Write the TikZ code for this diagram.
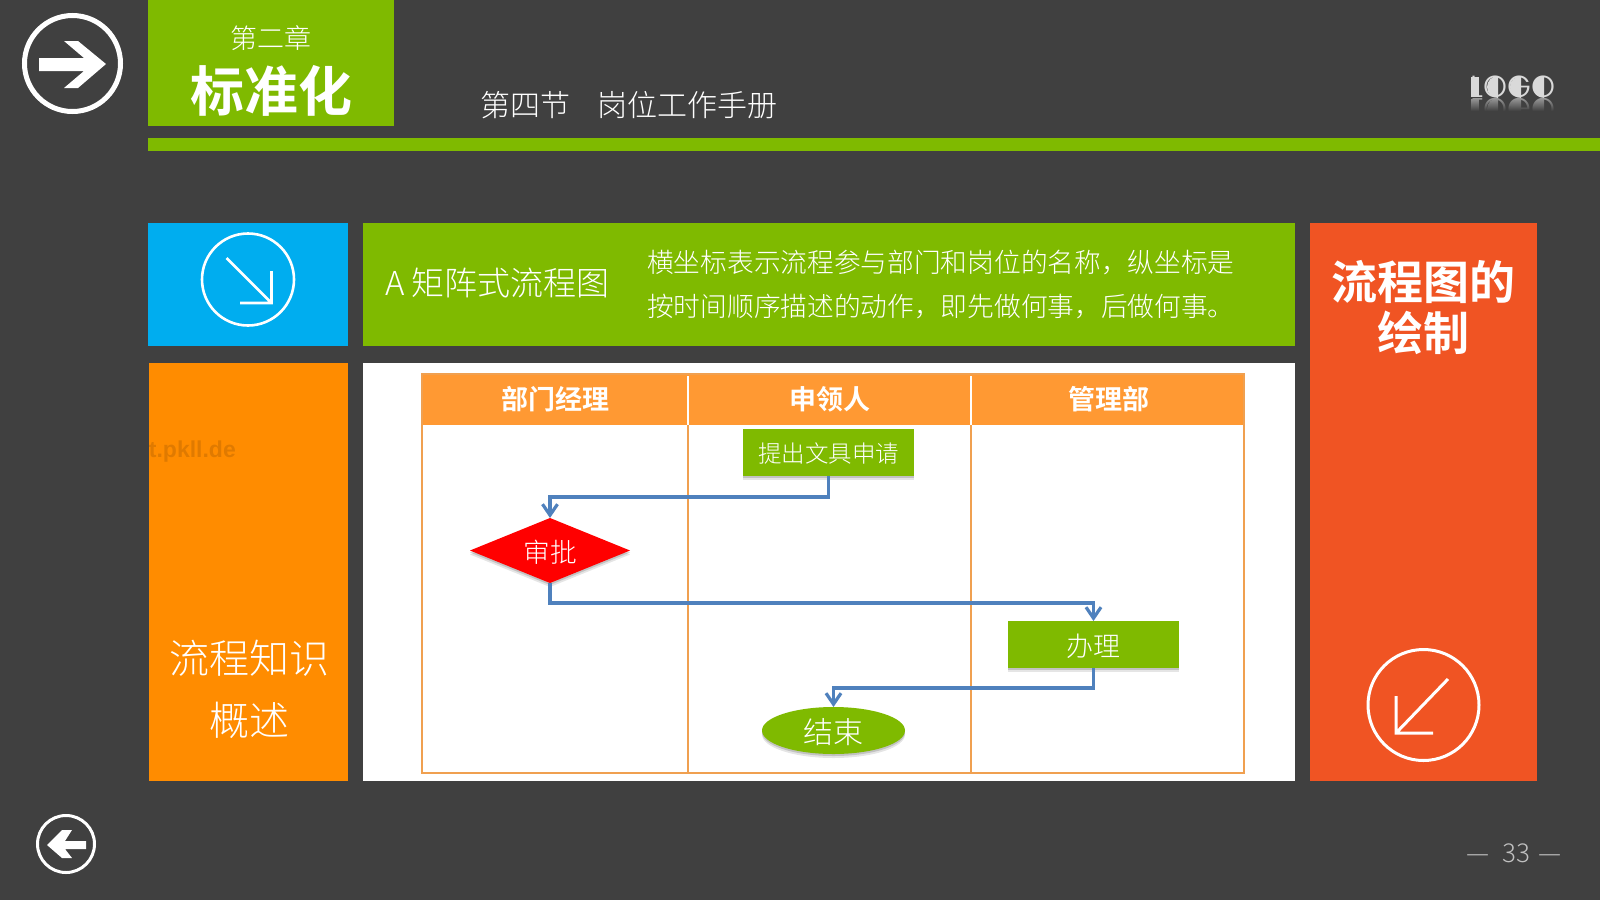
\documentclass[tikz,border=0pt]{standalone}
\usepackage{fontspec}
\setmainfont{Noto Sans CJK SC Light}[BoldFont={Noto Sans CJK SC Bold}]
\newfontfamily\logofont{Poppins Light}
\newfontfamily\markfont{Liberation Sans}
\usetikzlibrary{shapes.geometric,arrows.meta,shadows,fadings}
\definecolor{slidebg}{HTML}{404040}
\definecolor{leaf}{HTML}{7FBA00}
\definecolor{sky}{HTML}{00ADEF}
\definecolor{amber}{HTML}{FF8C00}
\definecolor{brick}{HTML}{F05423}
\definecolor{headfill}{HTML}{FF9933}
\definecolor{rule}{HTML}{F0A050}
\definecolor{flow}{HTML}{4F81BD}
\definecolor{pagegray}{HTML}{BFBFBF}
\newcommand{\fs}[2]{\fontsize{#1}{#2}\selectfont}
\begin{document}
\begin{tikzpicture}[x=1pt,y=-1pt]
  \tikzstyle{panel}=[inner sep=0pt,outer sep=0pt,text=white,align=center]
  \tikzstyle{label}=[inner sep=0pt,text=white,align=center]
  \tikzstyle{icon}=[draw=white,circle,inner sep=0pt,outer sep=0pt]
  \tikzstyle{soft}=[drop shadow={shadow xshift=0pt,shadow yshift=-4pt,fill=black,opacity=0.1},
    drop shadow={shadow xshift=0pt,shadow yshift=-2pt,fill=black,opacity=0.15}]
  \tikzstyle{stepbox}=[panel,fill=leaf,soft,text depth=3pt,minimum width=171pt,minimum height=47pt]
  \tikzstyle{edge}=[draw=flow,line width=3.2pt,-{Straight Barb[length=11pt,width=15pt]}]

  \useasboundingbox (0,0) rectangle (1600,900);
  \fill[slidebg] (0,0) rectangle (1600,900);

  % top band
  \fill[leaf] (148,0) rectangle (394,126);
  \fill[leaf] (148,138) rectangle (1600,151);
  \node[label,font=\fs{27}{27}] (chapter) at (271,38) {第二章};
  \node[label,font=\fs{54}{54}\bfseries] (title) at (271,91) {标准化};
  \node[label,anchor=west,font=\fs{30}{30}] (section) at (480,105) {第四节\hspace{0.9em}岗位工作手册};

  % logo with its reflection
  \node[label,text=white!85!black,font=\logofont\fs{30.5}{30.5}] (logo) at (1513,87) {LOGO};
  \fill[white!85!black] (1471,77) rectangle (1479,97);
  \foreach \cx in {1498,1521,1544}
    \fill[white!85!black] (\cx,98) arc (90:270:11) -- cycle;
  \node[label,text=white!60!black,font=\logofont\fs{30.5}{30.5},yscale=-1] (logoflip) at (1513,109) {LOGO};
  \fill[white!60!black] (1471,99) rectangle (1479,119);
  \foreach \cx in {1498,1521,1544}
    \fill[white!60!black] (\cx,120) arc (90:270:11) -- cycle;
  \fill[slidebg] (1460,111) rectangle (1565,125);
  \fill[slidebg,path fading=north] (1460,98) rectangle (1565,111);

  % panels
  \node[panel,fill=sky,minimum width=200pt,minimum height=123pt] (bluebox) at (248,284.5) {};
  \node[panel,fill=leaf,minimum width=932pt,minimum height=123pt] (notebox) at (829,284.5) {};
  \node[panel,fill=brick,minimum width=227pt,minimum height=558pt] (redbox) at (1423.5,502) {};
  \node[panel,fill=amber,minimum width=199pt,minimum height=418pt] (orangebox) at (248.5,572) {};
  \node[panel,fill=white,minimum width=932pt,minimum height=418pt] (whitebox) at (829,572) {};

  \node[label,anchor=east,text=black,opacity=0.12,font=\markfont\bfseries\fs{23}{23}] (mark) at (236,452) {t.pkll.de};

  \node[label,anchor=west,font=\fs{33}{33}] (method) at (385,283) {A 矩阵式流程图};
  \node[label,anchor=west,align=left,font=\fs{26.7}{44}] (note) at (647,284) {横坐标表示流程参与部门和岗位的名称，纵坐标是\\按时间顺序描述的动作，即先做何事，后做何事。};
  \node[label,font=\fs{46}{51}\bfseries] (drawing) at (1423,308) {流程图的\\绘制};
  \node[label,font=\fs{40}{62}] (overview) at (249,689) {流程知识\\概述};

  % icons
  \node[icon,line width=5pt,minimum size=96pt] (nextcirc) at (72.5,63.5) {};
  \fill[white] (39,58) -- (84,58) -- (64,41) -- (78,41) -- (106,64) -- (78,88) -- (64,88) -- (84,71) -- (39,71) -- cycle;
  \node[icon,line width=2.6pt,minimum size=92pt] (downcirc) at (248,279.5) {};
  \draw[white,line width=2.6pt] (226.5,258) -- (271.5,303) (271.5,271) -- (271.5,303) -- (240,303);
  \node[icon,line width=3pt,minimum size=111pt] (upcirc) at (1423.5,705) {};
  \draw[white,line width=3pt] (1448,679) -- (1396,733) (1396,696) -- (1396,733) -- (1433,733);
  \node[icon,line width=3pt,minimum size=57pt] (backcirc) at (66,844) {};
  \fill[white] (86,841) -- (65,841) -- (72,830) -- (62,830) -- (47,845) -- (62,858) -- (72,858) -- (65,849) -- (86,849) -- cycle;

  % swimlanes
  \fill[headfill] (422,374) rectangle (1244,425);
  \draw[rule,line width=1.6pt] (422,374) rectangle (1244,773);
  \draw[rule,line width=1.2pt] (688,425) -- (688,773) (971,425) -- (971,773);
  \draw[white,line width=1.2pt] (688,376) -- (688,425) (971,376) -- (971,425);
  \node[label,font=\fs{27}{27}\bfseries] (lane1) at (555,399) {部门经理};
  \node[label,font=\fs{27}{27}\bfseries] (lane2) at (829.5,399) {申领人};
  \node[label,font=\fs{27}{27}\bfseries] (lane3) at (1108.5,399) {管理部};

  % flow
  \node[stepbox,text height=22pt,font=\fs{23.5}{23.5}] (apply) at (828.5,452.5) {提出文具申请};
  \node[panel,fill=red,soft,text height=27pt,text depth=3pt,diamond,aspect=2.46,minimum width=160pt,minimum height=65pt,font=\fs{26.7}{26.7}] (check) at (550,550.5) {审批};
  \node[stepbox,text height=27pt,font=\fs{27}{27}] (handle) at (1093.5,644.5) {办理};
  \node[panel,fill=leaf,soft,text height=29pt,text depth=3pt,ellipse,minimum width=143pt,minimum height=47pt,font=\fs{30}{30}] (finish) at (833.5,730.5) {结束};

  \path[edge] (apply.south) -- ++(0,21) -| (check.north);
  \path[edge] (check.south) -- ++(0,20) -| (handle.north);
  \path[edge] (handle.south) -- ++(0,20) -| (finish.north);

  \node[label,text=pagegray,font=\fs{26}{26}] (page) at (1514,853) {—\hspace{13pt}33\hspace{8pt}—};
\end{tikzpicture}
\end{document}
